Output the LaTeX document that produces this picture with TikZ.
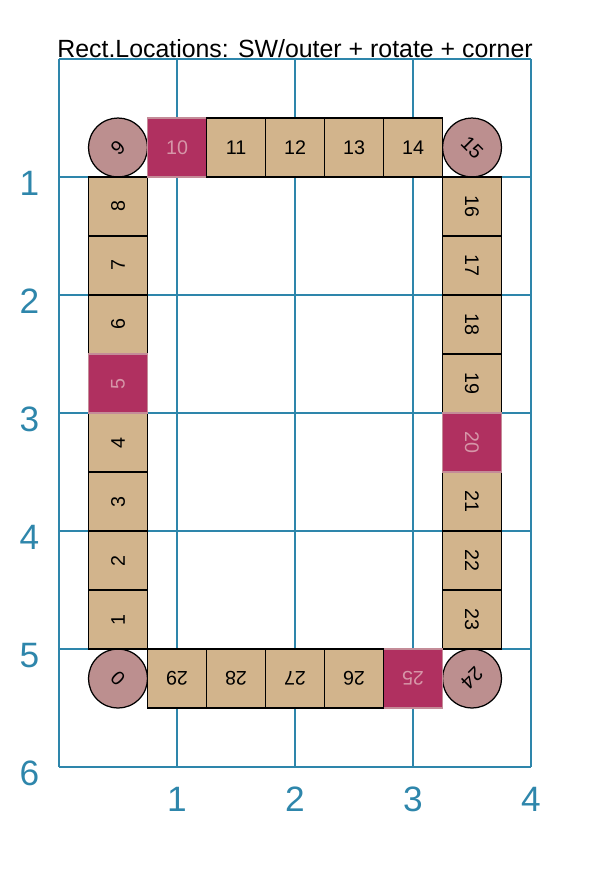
\documentclass[tikz,border=0pt]{standalone}
\usepackage{fontspec}
\setmainfont{Liberation Sans}
\definecolor{gridblue}{RGB}{46,134,171}
\definecolor{tanfill}{RGB}{210,180,140}
\definecolor{rosy}{RGB}{188,143,143}
\definecolor{hilite}{RGB}{176,48,96}
\definecolor{hiborder}{RGB}{196,140,152}
\definecolor{hitext}{RGB}{214,150,168}
\tikzset{
  sq/.style={draw=black, line width=0.6pt, fill=tanfill, minimum size=1cm, inner sep=0pt, outer sep=0pt, font=\fontsize{9.5}{11}\selectfont},
  hisq/.style={sq, draw=hiborder, fill=hilite, text=hitext},
  corner/.style={draw=black, line width=0.6pt, fill=rosy, circle, minimum size=1cm, inner sep=0pt, outer sep=0pt, font=\fontsize{9.5}{11}\selectfont},
  axlab/.style={text=gridblue, anchor=base, font=\fontsize{17}{20}\selectfont, inner sep=0pt},
  gridline/.style={draw=gridblue, line width=0.75pt}
}
\begin{document}
\begin{tikzpicture}[x=2cm,y=-2cm]
\useasboundingbox (-0.5,-0.5) rectangle (4.695,6.915);
% grid
\foreach \i in {0,...,4} \draw[gridline] (\i,0) -- (\i,6);
\foreach \j in {0,...,6} \draw[gridline] (0,\j) -- (4,\j);
% title
\node[anchor=base, inner sep=0pt, font=\fontsize{12}{14}\selectfont] (title) at (2,-0.01) {Rect.Locations: SW/outer + rotate + corner};
% axis labels
\foreach \j in {1,...,6} \node[axlab] (yl\j) at (-0.25,\j+0.153) {\j};
\foreach \i in {1,...,4} \node[axlab] (xl\i) at (\i,6.373) {\i};
% corners
\node[corner, rotate=135] (c0) at (0.5,5.25) {0};
\node[corner, rotate=45] (c9) at (0.5,0.75) {9};
\node[corner, rotate=-45] (c15) at (3.5,0.75) {15};
\node[corner, rotate=-135] (c24) at (3.5,5.25) {24};
% left column
\foreach \n/\y in {1/4.75,2/4.25,3/3.75,4/3.25,6/2.25,7/1.75,8/1.25}
  \node[sq, rotate=90] (s\n) at (0.5,\y) {\n};
\node[hisq, rotate=90] (s5) at (0.5,2.75) {5};
% top row
\node[hisq] (s10) at (1,0.75) {10};
\foreach \n/\x in {11/1.5,12/2,13/2.5,14/3}
  \node[sq] (s\n) at (\x,0.75) {\n};
% right column
\foreach \n/\y in {16/1.25,17/1.75,18/2.25,19/2.75,21/3.75,22/4.25,23/4.75}
  \node[sq, rotate=-90] (s\n) at (3.5,\y) {\n};
\node[hisq, rotate=-90] (s20) at (3.5,3.25) {20};
% bottom row
\node[hisq, rotate=180] (s25) at (3,5.25) {25};
\foreach \n/\x in {26/2.5,27/2,28/1.5,29/1}
  \node[sq, rotate=180] (s\n) at (\x,5.25) {\n};
\end{tikzpicture}
\end{document}
